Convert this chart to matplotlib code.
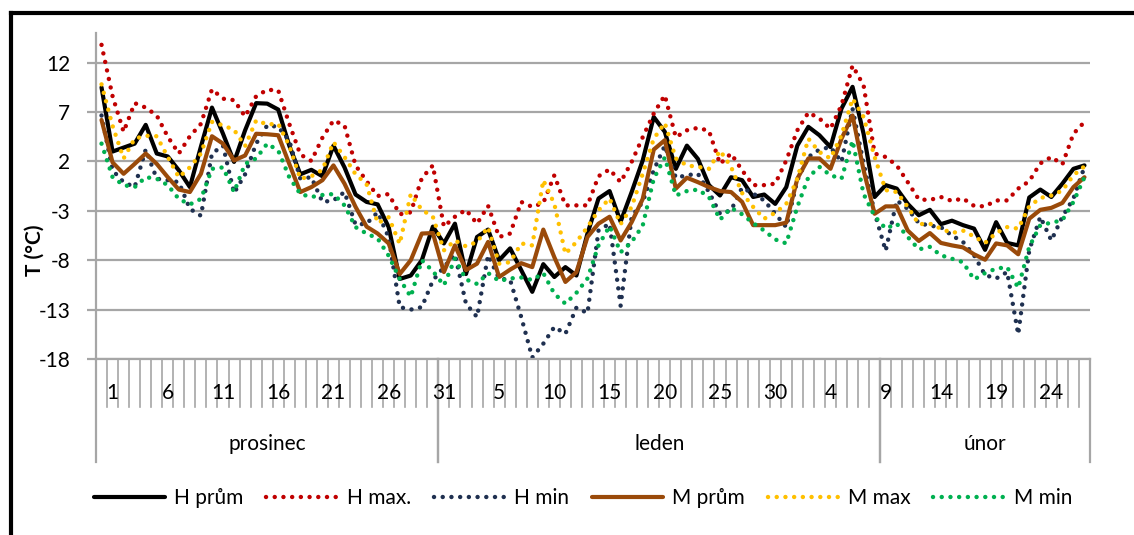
import matplotlib
matplotlib.use('Agg')
import matplotlib.pyplot as plt
import matplotlib.transforms as mtransforms
from matplotlib.lines import Line2D

plt.rcParams['font.family'] = ['Lato', 'DejaVu Sans']
plt.rcParams['font.size'] = 15
plt.rcParams['axes.unicode_minus'] = False

# daily temperatures, 90 categories (Nov 30 .. Feb 27)
h_prum = [9.5, 3.0, 3.4, 3.8, 5.7, 2.8, 2.5, 1.1, -0.6, 3.5,
          7.45, 4.8, 1.95, 5.15, 7.9, 7.85, 7.25, 3.6, 0.7, 1.15,
          0.5, 3.6, 1.4, -1.35, -2.1, -2.35, -4.65, -9.9, -9.55, -8.0,
          -4.6, -6.3, -4.3, -9.4, -5.65, -4.9, -8.0, -6.8, -9.0, -11.2,
          -8.4, -9.7, -8.7, -9.55, -5.3, -1.75, -1.0, -4.1, -1.1, 2.1,
          6.5, 5.0, 1.25, 3.6, 2.25, -0.4, -1.45, 0.4, 0.1, -1.6,
          -1.35, -2.3, -0.6, 3.6, 5.5, 4.65, 3.45, 7.35, 9.55, 4.8,
          -1.6, -0.4, -0.75, -2.3, -3.45, -2.9, -4.35, -4.0, -4.45, -4.8,
          -6.95, -4.15, -6.25, -6.5, -1.65, -0.85, -1.6, -0.25, 1.25, 1.6]
h_max = [13.8, 8.6, 5.0, 7.9, 7.45, 6.65, 4.5, 2.8, 4.55, 5.8,
         9.3, 8.35, 8.2, 6.55, 8.6, 9.25, 9.2, 5.8, 2.7, 2.05,
         4.4, 6.15, 5.65, 1.6, 0.0, -1.5, -1.3, -3.35, -3.15, 0.3,
         1.6, -4.6, -3.6, -2.9, -4.3, -2.5, -5.65, -5.3, -2.1, -2.6,
         -2.2, 0.6, -2.45, -2.45, -2.45, 0.5, 1.2, -0.1, 1.95, 4.45,
         6.85, 8.7, 4.45, 5.15, 5.4, 5.1, 1.75, 2.8, 1.1, -0.4,
         -0.4, -0.25, 2.1, 5.15, 6.95, 6.35, 5.3, 7.7, 11.7, 9.7,
         2.8, 2.45, 1.6, -0.1, -1.85, -1.9, -1.6, -2.0, -1.75, -2.5,
         -2.55, -1.95, -1.95, -0.75, 0.0, 1.8, 2.45, 1.7, 4.8, 6.0]
h_min = [6.65, 1.1, -0.1, -0.6, 3.2, 0.25, 0.1, -0.1, -2.8, -3.5,
         2.8, 3.6, -1.2, 0.7, 3.8, 5.65, 5.5, 4.1, 0.25, 0.4,
         -2.1, -1.95, -1.1, -4.4, -4.3, -3.15, -5.7, -12.75, -13.0, -12.75,
         -10.05, -8.7, -7.4, -12.4, -13.75, -7.5, -9.85, -10.0, -13.75, -17.85,
         -16.45, -14.75, -15.45, -12.8, -13.35, -5.0, -4.3, -12.6, -3.6, -2.1,
         1.1, 3.6, 0.35, 0.6, 0.75, -1.1, -3.3, -2.95, -0.65, -1.25,
         -1.95, -3.3, -4.65, 0.1, 2.45, 3.2, 3.45, 1.95, 7.35, 1.8,
         -3.2, -7.05, -1.95, -2.8, -4.25, -4.5, -4.65, -5.5, -6.15, -7.5,
         -9.5, -9.85, -9.2, -15.5, -7.0, -3.6, -6.0, -3.6, -1.75, 1.45]
m_prum = [6.2, 1.9, 0.75, 1.75, 2.8, 1.75, 0.4, -0.85, -1.1, 0.75,
          4.55, 3.8, 2.1, 2.6, 4.8, 4.75, 4.65, 1.75, -1.1, -0.6,
          0.1, 1.6, -0.25, -2.6, -4.6, -5.3, -6.3, -9.4, -8.0, -5.3,
          -5.25, -9.2, -6.5, -9.0, -8.35, -6.15, -9.7, -8.95, -8.3, -8.7,
          -4.9, -7.7, -10.2, -9.2, -5.65, -4.3, -3.6, -6.0, -4.15, -1.8,
          3.2, 4.15, -0.75, 0.35, -0.1, -0.6, -1.0, -1.1, -2.1, -4.45,
          -4.45, -4.45, -4.2, 0.25, 2.3, 2.3, 1.25, 4.3, 6.65, 1.1,
          -3.3, -2.55, -2.55, -5.0, -6.05, -5.25, -6.25, -6.5, -6.7, -7.4,
          -7.95, -6.3, -6.5, -7.4, -3.8, -2.9, -2.7, -2.2, -0.6, 0.4]
m_max = [9.8, 5.6, 2.3, 4.3, 4.6, 4.55, 2.45, 0.4, 1.4, 2.8,
         6.0, 5.65, 5.2, 3.55, 6.15, 5.75, 5.8, 3.6, 0.25, 0.5,
         1.15, 3.95, 2.45, 0.7, -0.3, -4.25, -3.65, -6.35, -1.3, -2.9,
         -3.6, -7.0, -6.0, -6.6, -6.15, -4.65, -8.35, -8.2, -6.3, -6.5,
         0.1, -2.3, -7.35, -6.15, -4.65, -2.95, -1.75, -4.35, -2.6, 0.75,
         4.3, 5.9, 2.3, 1.6, 1.45, 1.25, 3.1, 1.45, -1.2, -2.6,
         -3.8, -3.2, -2.3, 0.25, 4.3, 2.95, 2.3, 4.65, 8.35, 6.5,
         2.45, -0.9, -1.1, -2.6, -4.35, -4.3, -4.8, -5.25, -5.0, -5.6,
         -6.25, -5.25, -4.65, -4.8, -2.55, -1.7, -1.45, -0.95, 0.6, 1.5]
m_min = [3.8, 0.4, -0.4, -0.6, 0.4, 0.25, -0.4, -1.8, -2.35, -1.8,
         1.25, 1.4, -1.1, 1.75, 2.3, 3.8, 3.1, 0.4, -1.3, -1.6,
         -1.4, -1.3, -2.45, -4.65, -5.3, -5.8, -7.55, -9.9, -11.7, -8.0,
         -9.1, -10.55, -7.85, -9.95, -10.4, -9.3, -10.1, -9.85, -9.75, -10.0,
         -9.3, -11.4, -12.4, -11.3, -9.85, -6.5, -4.55, -7.2, -6.15, -4.5,
         0.25, 2.4, -1.45, -1.0, -0.85, -1.6, -3.9, -2.7, -3.35, -4.25,
         -5.0, -5.9, -6.3, -2.6, 0.4, 1.45, 0.6, 0.25, 4.1, -1.3,
         -3.55, -4.8, -4.3, -5.65, -6.9, -6.65, -7.5, -7.85, -8.2, -9.95,
         -9.3, -8.85, -8.7, -10.8, -6.65, -4.45, -4.2, -3.95, -2.1, 0.4]

day_labels = ['1', '6', '11', '16', '21', '26', '31', '5', '10', '15',
              '20', '25', '30', '4', '9', '14', '19', '24']
months = ['prosinec', 'leden', 'únor']
month_sizes = [31, 40, 19]

series = [('H prům', h_prum, '#000000', '-'),
          ('H max.', h_max, '#c00000', ':'),
          ('H min', h_min, '#1f3050', ':'),
          ('M prům', m_prum, '#9a4a0a', '-'),
          ('M max', m_max, '#ffc000', ':'),
          ('M min', m_min, '#00b050', ':')]

W, H = 1134, 535
fig = plt.figure(figsize=(W / 100, H / 100), dpi=100)
ax = fig.add_axes([96 / W, 176 / H, 994 / W, 326 / H])

n = len(h_prum)
x = list(range(n))
grid_col = '#a6a6a6'
dot = (0, (0.01, 1.95))

handles = []
for name, vals, col, ls in series:
    if ls == '-':
        ln, = ax.plot(x, vals, color=col, lw=3.0, solid_capstyle='round',
                      solid_joinstyle='round', label=name)
    else:
        ln, = ax.plot(x, vals, color=col, lw=3.2, linestyle=dot,
                      dash_capstyle='round', label=name)
    handles.append(ln)

ax.set_xlim(-0.5, n - 0.5)
ax.set_ylim(-18, 15)
ax.set_yticks(range(-18, 13, 5))
ax.set_xticks([])
ax.yaxis.grid(True, color=grid_col, lw=1.6)
ax.set_axisbelow(True)
ax.tick_params(axis='y', length=6.5, width=1.6, color=grid_col, pad=12)
for s in ['top', 'right']:
    ax.spines[s].set_visible(False)
for s in ['left', 'bottom']:
    ax.spines[s].set_color(grid_col)
    ax.spines[s].set_linewidth(1.6)


def fy(ypx):
    return 1 - ypx / H


blend = mtransforms.blended_transform_factory(ax.transData, fig.transFigure)

# category separators and day labels
for e in range(n + 1):
    ax.add_line(Line2D([e - 0.5, e - 0.5], [fy(359), fy(407)], transform=blend,
                       color=grid_col, lw=1.2, clip_on=False))
for k, lab in enumerate(day_labels):
    ax.text(1 + 5 * k, fy(393), lab, transform=blend, ha='center', va='center')

# month groups
start = 0
for m, size in zip(months, month_sizes):
    for e in (start, start + size):
        ax.add_line(Line2D([e - 0.5, e - 0.5], [fy(359), fy(462)], transform=blend,
                           color=grid_col, lw=1.6, clip_on=False))
    ax.text(start + size / 2 - 0.5, fy(444), m, transform=blend,
            ha='center', va='center')
    start += size

fig.text(35 / W, fy(250), 'T (°C)', rotation=90, ha='center', va='center',
         fontweight='bold')

fig.legend(handles=handles, loc='center', bbox_to_anchor=(583 / W, fy(498)),
           ncol=6, frameon=False, handlelength=3.4, handletextpad=0.45,
           columnspacing=1.1)

# outer frame (left and top edge only visible)
fig.add_artist(Line2D([10.5 / W, 10.5 / W], [0, fy(13)], transform=fig.transFigure,
                      color='black', lw=3, solid_capstyle='projecting'))
fig.add_artist(Line2D([10.5 / W, 1], [fy(13), fy(13)], transform=fig.transFigure,
                      color='black', lw=3, solid_capstyle='projecting'))

fig.savefig('out.png', dpi=100)
